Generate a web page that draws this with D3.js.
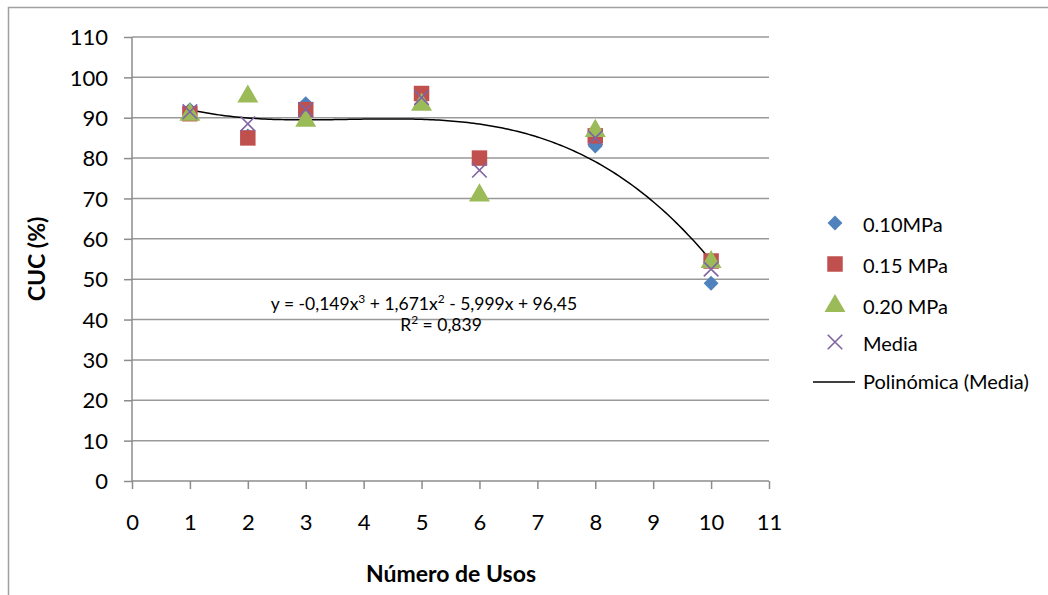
<!DOCTYPE html>
<html>
<head>
<meta charset="utf-8">
<script src="https://cdn.jsdelivr.net/npm/d3@7"></script>
<style>
  body { margin: 0; background: #fff; }
  svg text { font-family: Lato, "Open Sans", sans-serif; fill: #000; }
</style>
</head>
<body>
<div id="chart"></div>
<script>
// data
var usos = [1, 2, 3, 5, 6, 8, 10];
var p010 = [92, 85.5, 93.5, 96, 80, 83, 49];
var p015 = [91, 85, 92, 96, 80, 85.5, 54.5];
var p020 = [91, 95.5, 89.5, 93.5, 71, 87, 54.5];
var media = [91.5, 88.5, 92, 95, 77, 85, 52.5];
var trendCoef = [96.45, -5.999, 1.671, -0.149]; // c0 + c1 x + c2 x^2 + c3 x^3
var xTicks = d3.range(0, 12);
var yTicks = d3.range(0, 120, 10);
var seriesNames = ["0.10MPa", "0.15 MPa", "0.20 MPa", "Media"];

var width = 1048, height = 595;
var svg = d3.select("#chart").append("svg").attr("width", width).attr("height", height);

// outer chart border (only top and left visible)
svg.append("path").attr("d", "M8.5,600 L8.5,7.5 L1050,7.5")
  .attr("fill", "none").attr("stroke", "#a0a0a0").attr("stroke-width", 1.5);

var x = d3.scaleLinear().domain([0, 11]).range([132, 769]);
var y = d3.scaleLinear().domain([0, 110]).range([481, 37]);

// gridlines
svg.append("g").selectAll("line").data(yTicks.slice(1)).enter().append("line")
  .attr("x1", x(0)).attr("x2", x(11))
  .attr("y1", function (d) { return y(d); }).attr("y2", function (d) { return y(d); })
  .attr("stroke", "#999").attr("stroke-width", 1.5);

// axes
var yAxis = svg.append("g").attr("transform", "translate(" + x(0) + ",0)")
  .call(d3.axisLeft(y).tickValues(yTicks).tickSize(8).tickPadding(16));
var xAxis = svg.append("g").attr("transform", "translate(0," + y(0) + ")")
  .call(d3.axisBottom(x).tickValues(xTicks).tickSize(8).tickPadding(25));
[yAxis, xAxis].forEach(function (a) {
  a.selectAll("path, line").attr("stroke", "#8c8c8c").attr("stroke-width", 1.5);
  a.selectAll("text").style("font-family", "Lato, sans-serif").style("font-size", "22px").attr("fill", "#000");
});
yAxis.select(".domain").attr("d", "M0," + y(110) + "V" + y(0));
xAxis.select(".domain").attr("d", "M" + x(0) + ",0H" + x(11));
yAxis.selectAll("text").attr("dy", "0.35em");

// axis titles
svg.append("text").attr("transform", "translate(45,259) rotate(-90)")
  .attr("text-anchor", "middle").style("font-size", "23px").style("font-weight", "bold").text("CUC (%)");
svg.append("text").attr("x", 451).attr("y", 582)
  .attr("text-anchor", "middle").style("font-size", "23px").style("font-weight", "bold").text("Número de Usos");

// trendline
var poly = function (v) { return trendCoef[0] + trendCoef[1] * v + trendCoef[2] * v * v + trendCoef[3] * v * v * v; };
var tx = d3.range(1, 10.001, 0.05);
svg.append("path").datum(tx)
  .attr("d", d3.line().x(function (d) { return x(d); }).y(function (d) { return y(poly(d)); }))
  .attr("fill", "none").attr("stroke", "#000").attr("stroke-width", 1.5);

// markers
var colors = ["#4F81BD", "#C0504D", "#9BBB59", "#8064A2"];
var symbols = [d3.symbolSquare, d3.symbolSquare, d3.symbolTriangle, d3.symbolX];
var sizes = [110, 240, 190, 140];
function drawMarker(g, i) {
  var s = d3.symbol().type(symbols[i]).size(sizes[i])();
  if (i === 3) {
    g.append("path").attr("d", s).attr("fill", "none").attr("stroke", colors[i]).attr("stroke-width", 1.6);
  } else {
    g.append("path").attr("d", s).attr("fill", colors[i])
      .attr("transform", i === 0 ? "rotate(45)" : i === 2 ? "translate(0,1)" : null);
  }
}
var seriesData = [p010, p015, p020, media];
seriesData.forEach(function (vals, i) {
  var g = svg.append("g");
  g.selectAll("g").data(vals).enter().append("g")
    .attr("transform", function (d, j) { return "translate(" + x(usos[j]) + "," + y(d) + ")"; })
    .each(function () { drawMarker(d3.select(this), i); });
});

// equation
var eq = svg.append("text").attr("x", 424).attr("y", 310).attr("text-anchor", "middle").style("font-size", "17.5px");
eq.append("tspan").text("y = -0,149x");
eq.append("tspan").attr("dy", -7).style("font-size", "12px").text("3");
eq.append("tspan").attr("dy", 7).text(" + 1,671x");
eq.append("tspan").attr("dy", -7).style("font-size", "12px").text("2");
eq.append("tspan").attr("dy", 7).text(" - 5,999x + 96,45");
var r2 = svg.append("text").attr("x", 441).attr("y", 331).attr("text-anchor", "middle").style("font-size", "17.5px");
r2.append("tspan").text("R");
r2.append("tspan").attr("dy", -7).style("font-size", "12px").text("2");
r2.append("tspan").attr("dy", 7).text(" = 0,839");

// legend
var legY = [223, 264, 305, 342];
seriesNames.forEach(function (name, i) {
  var g = svg.append("g").attr("transform", "translate(835," + legY[i] + ")");
  drawMarker(g, i);
  svg.append("text").attr("x", 863).attr("y", legY[i] + 2).attr("dy", "0.35em")
    .style("font-size", "20px").text(name);
});
svg.append("line").attr("x1", 813).attr("x2", 855).attr("y1", 382).attr("y2", 382)
  .attr("stroke", "#000").attr("stroke-width", 1.5);
svg.append("text").attr("x", 863).attr("y", 382).attr("dy", "0.35em").style("font-size", "20px").text("Polinómica (Media)");
</script>
</body>
</html>
